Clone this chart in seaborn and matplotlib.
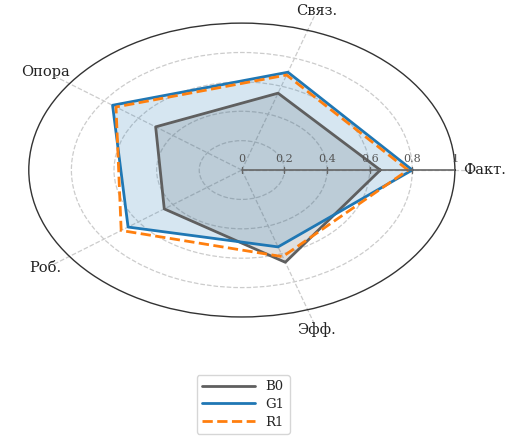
import numpy as np
import pandas as pd
import matplotlib.pyplot as plt
import seaborn as sns

# 轴名称与三组数据
categories = ["Факт.", "Связ.", "Опора", "Роб.", "Эфф."]
b0_values = [0.65, 0.55, 0.50, 0.45, 0.66]
g1_values = [0.80, 0.70, 0.75, 0.66, 0.55]
r1_values = [0.78, 0.68, 0.73, 0.70, 0.62]
r_ticks = [0, 0.2, 0.4, 0.6, 0.8, 1]
r_tick_labels = ["0", "0.2", "0.4", "0.6", "0.8", "1"]

sns.set_theme(style="white")
plt.rcParams["font.family"] = ["DejaVu Serif"]

angles = np.linspace(0, 2 * np.pi, len(categories), endpoint=False)
closed = np.append(angles, 2 * np.pi)  # 闭合多边形，避免 x 重复被聚合

series = {
    "B0": (b0_values, "#5f5f5f", "-", 0.2),
    "G1": (g1_values, "#1f77b4", "-", 0.18),
    "R1": (r1_values, "#ff7f0e", "--", 0.0),
}

fig = plt.figure(figsize=(5.14, 4.36), dpi=100)
ax = fig.add_axes([0.056, 0.273, 0.829, 0.674], projection="polar")
ax.set_aspect("auto")

handles = []
for name, (vals, color, ls, fill_alpha) in series.items():
    rr = np.append(vals, vals[0])
    df = pd.DataFrame({"theta": closed, "r": rr})
    sns.lineplot(data=df, x="theta", y="r", sort=False, estimator=None, ax=ax,
                 color=color, linestyle=ls, linewidth=2, label=name, legend=False)
    handles.append(ax.lines[-1])
    if fill_alpha > 0:
        ax.fill(closed, rr, color=color, alpha=fill_alpha, zorder=1)

ax.set_ylim(0, 1)
ax.set_xticks(angles)
ax.set_xticklabels([])
ax.set_yticks(r_ticks[1:-1])
ax.set_yticklabels([])
ax.grid(True, color="#cccccc", linestyle="--", linewidth=0.9)
ax.xaxis.grid(False)
ax.spines["polar"].set_color("#333333")
ax.spines["polar"].set_linewidth(1.0)
ax.set_xlabel("")
ax.set_ylabel("")

# 径向虚线延伸到外圈之外
for a in angles:
    ax.plot([a, a], [0, 1.1], color="#cccccc", linestyle="--", linewidth=0.9,
            clip_on=False, zorder=0.5)

# 0° 方向的径向轴线和刻度
ax.plot([0, 0], [0, 1], color="#666666", linewidth=1.2, zorder=4)
ax.plot(np.zeros(len(r_ticks)), r_ticks, linestyle="none", marker="|",
        markersize=5, color="#666666", zorder=4)
for r, lab in zip(r_ticks, r_tick_labels):
    ax.annotate(lab, xy=(0, r), xytext=(0, 4), textcoords="offset points",
                ha="center", va="bottom", fontsize=8, color="#555555", zorder=5)

# 类别标签
for a, lab in zip(angles, categories):
    if a == 0:
        ax.text(a, 1.04, lab, ha="left", va="center", fontsize=10.5,
                color="#222222", clip_on=False)
    else:
        ax.text(a, 1.14, lab, ha="center", va="center", fontsize=10.5,
                color="#222222", clip_on=False)

fig.legend(handles=handles, labels=list(series.keys()), loc="upper center",
           bbox_to_anchor=(0.473, 0.155), fontsize=9.5, handlelength=4.0,
           labelspacing=0.35, frameon=True, edgecolor="#cccccc", fancybox=True)

fig.savefig("out.png", dpi=100)
